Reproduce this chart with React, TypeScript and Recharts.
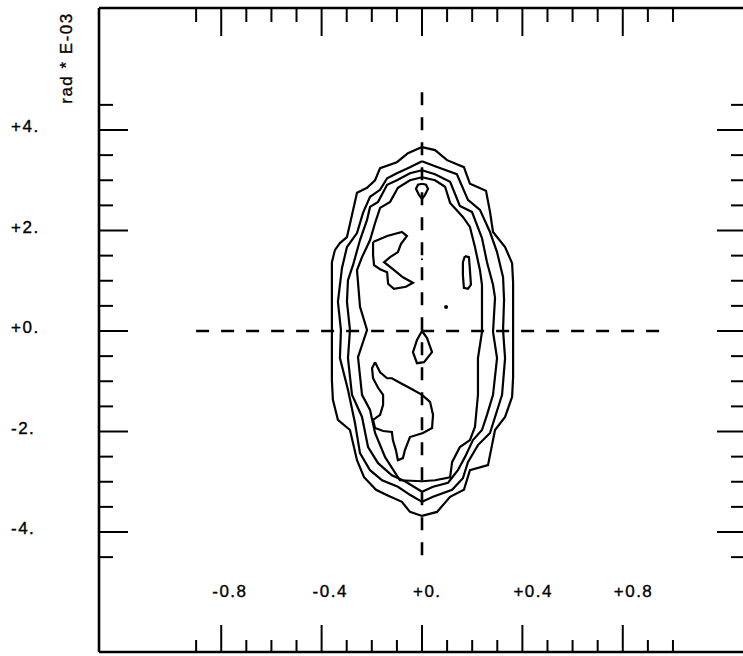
import React from 'react';
import { ScatterChart, Scatter, XAxis, YAxis } from 'recharts';

// tick positions and labels
const X_TICKS = [-0.9, -0.8, -0.7, -0.6, -0.5, -0.4, -0.3, -0.2, -0.1, 0, 0.1, 0.2, 0.3, 0.4, 0.5, 0.6, 0.7, 0.8, 0.9, 1.0];
const X_MAJOR = [-0.8, -0.4, 0, 0.4, 0.8];
const X_LABELS = ['-0.8', '-0.4', '+0.', '+0.4', '+0.8'];
const Y_TICKS = [4.5, 4, 3.5, 3, 2.5, 2, 1.5, 1, 0.5, 0, -0.5, -1, -1.5, -2, -2.5, -3, -3.5, -4, -4.5];
const Y_MAJOR = [4, 2, 0, -2, -4];
const Y_LABELS = ['+4.', '+2.', '+0.', '-2.', '-4.'];

// contour levels, outer to inner
const contour1 = [
  { x: 0, y: 3.66 }, { x: 0.052, y: 3.6 }, { x: 0.1, y: 3.4 }, { x: 0.167, y: 3.26 }, { x: 0.191, y: 2.93 },
  { x: 0.255, y: 2.79 }, { x: 0.271, y: 2.37 }, { x: 0.283, y: 1.97 }, { x: 0.331, y: 1.67 }, { x: 0.359, y: 1.35 },
  { x: 0.363, y: 0.96 }, { x: 0.363, y: 0.02 }, { x: 0.363, y: -0.92 }, { x: 0.359, y: -1.31 }, { x: 0.331, y: -1.71 },
  { x: 0.291, y: -1.97 }, { x: 0.263, y: -2.67 }, { x: 0.191, y: -2.77 }, { x: 0.167, y: -3.16 }, { x: 0.112, y: -3.3 },
  { x: 0.06, y: -3.6 }, { x: 0, y: -3.68 }, { x: -0.048, y: -3.6 }, { x: -0.08, y: -3.4 }, { x: -0.143, y: -3.26 },
  { x: -0.183, y: -3.16 }, { x: -0.231, y: -2.91 }, { x: -0.259, y: -2.57 }, { x: -0.287, y: -1.97 }, { x: -0.335, y: -1.77 },
  { x: -0.355, y: -1.37 }, { x: -0.359, y: -0.98 }, { x: -0.359, y: 0.02 }, { x: -0.359, y: 0.82 }, { x: -0.359, y: 1.37 },
  { x: -0.347, y: 1.61 }, { x: -0.327, y: 1.75 }, { x: -0.299, y: 1.87 }, { x: -0.279, y: 2.31 }, { x: -0.259, y: 2.75 },
  { x: -0.219, y: 2.85 }, { x: -0.187, y: 3.0 }, { x: -0.167, y: 3.24 }, { x: -0.1, y: 3.36 }, { x: -0.056, y: 3.54 },
  { x: 0, y: 3.66 },
];

const contour2 = [
  { x: 0, y: 3.38 }, { x: 0.052, y: 3.28 }, { x: 0.139, y: 3.12 }, { x: 0.183, y: 2.61 }, { x: 0.231, y: 2.41 },
  { x: 0.271, y: 1.97 }, { x: 0.299, y: 1.57 }, { x: 0.323, y: 1.07 }, { x: 0.327, y: 0.62 }, { x: 0.323, y: 0.02 },
  { x: 0.331, y: -0.54 }, { x: 0.319, y: -1.27 }, { x: 0.271, y: -2.03 }, { x: 0.223, y: -2.27 }, { x: 0.183, y: -2.61 },
  { x: 0.163, y: -2.93 }, { x: 0.12, y: -3.16 }, { x: 0.044, y: -3.3 }, { x: 0, y: -3.4 }, { x: -0.048, y: -3.26 },
  { x: -0.096, y: -3.1 }, { x: -0.159, y: -2.97 }, { x: -0.207, y: -2.77 }, { x: -0.247, y: -2.43 }, { x: -0.267, y: -1.83 },
  { x: -0.295, y: -1.17 }, { x: -0.327, y: -0.54 }, { x: -0.323, y: 0.02 }, { x: -0.335, y: 0.58 }, { x: -0.319, y: 1.25 },
  { x: -0.299, y: 1.67 }, { x: -0.259, y: 1.95 }, { x: -0.235, y: 2.35 }, { x: -0.207, y: 2.67 }, { x: -0.167, y: 2.81 },
  { x: -0.139, y: 3.04 }, { x: -0.1, y: 3.14 }, { x: -0.048, y: 3.26 }, { x: 0, y: 3.38 },
];

const contour3 = [
  { x: 0, y: 3.2 }, { x: 0.052, y: 3.12 }, { x: 0.112, y: 2.97 }, { x: 0.151, y: 2.49 }, { x: 0.199, y: 2.37 },
  { x: 0.239, y: 1.85 }, { x: 0.259, y: 1.37 }, { x: 0.283, y: 0.92 }, { x: 0.291, y: 0.66 }, { x: 0.283, y: -0.02 },
  { x: 0.299, y: -0.54 }, { x: 0.283, y: -1.27 }, { x: 0.259, y: -1.67 }, { x: 0.239, y: -1.97 }, { x: 0.203, y: -2.17 },
  { x: 0.171, y: -2.51 }, { x: 0.143, y: -2.77 }, { x: 0.104, y: -3.02 }, { x: 0.044, y: -3.1 }, { x: 0, y: -3.2 },
  { x: -0.068, y: -2.99 }, { x: -0.12, y: -2.87 }, { x: -0.175, y: -2.63 }, { x: -0.215, y: -2.31 }, { x: -0.239, y: -1.71 },
  { x: -0.279, y: -1.27 }, { x: -0.295, y: -0.54 }, { x: -0.287, y: 0.02 }, { x: -0.299, y: 0.58 }, { x: -0.295, y: 1.01 },
  { x: -0.275, y: 1.31 }, { x: -0.247, y: 1.81 }, { x: -0.219, y: 2.21 }, { x: -0.207, y: 2.47 }, { x: -0.175, y: 2.57 },
  { x: -0.139, y: 2.91 }, { x: -0.1, y: 3.0 }, { x: -0.048, y: 3.14 }, { x: 0, y: 3.2 },
];

const contour4 = [
  { x: 0, y: 3.06 }, { x: 0.052, y: 3.0 }, { x: 0.092, y: 2.87 }, { x: 0.112, y: 2.55 }, { x: 0.163, y: 2.27 },
  { x: 0.191, y: 2.07 }, { x: 0.211, y: 1.67 }, { x: 0.231, y: 1.21 }, { x: 0.239, y: 0.92 }, { x: 0.239, y: -0.02 },
  { x: 0.223, y: -0.54 }, { x: 0.223, y: -1.27 }, { x: 0.211, y: -1.91 }, { x: 0.191, y: -2.17 }, { x: 0.151, y: -2.31 },
  { x: 0.12, y: -2.61 }, { x: 0.112, y: -2.91 }, { x: 0.052, y: -2.97 }, { x: 0, y: -2.99 }, { x: -0.088, y: -2.97 },
  { x: -0.147, y: -2.51 }, { x: -0.187, y: -2.03 }, { x: -0.207, y: -1.57 }, { x: -0.239, y: -1.27 }, { x: -0.255, y: -0.52 },
  { x: -0.219, y: 0.02 }, { x: -0.247, y: 0.48 }, { x: -0.259, y: 1.21 }, { x: -0.239, y: 1.47 }, { x: -0.207, y: 1.81 },
  { x: -0.187, y: 2.15 }, { x: -0.167, y: 2.45 }, { x: -0.127, y: 2.57 }, { x: -0.096, y: 2.85 }, { x: -0.048, y: 3.0 },
  { x: 0, y: 3.06 },
];

// small inner islands
const islandTop = [
  { x: 0, y: 2.93 }, { x: 0.016, y: 2.91 }, { x: 0.024, y: 2.83 }, { x: 0.012, y: 2.71 }, { x: 0, y: 2.63 },
  { x: -0.012, y: 2.71 }, { x: -0.024, y: 2.83 }, { x: -0.016, y: 2.91 }, { x: 0, y: 2.93 },
];

const islandUpperLeft = [
  { x: -0.195, y: 1.77 }, { x: -0.139, y: 1.89 }, { x: -0.08, y: 1.97 }, { x: -0.06, y: 1.89 }, { x: -0.084, y: 1.73 },
  { x: -0.096, y: 1.57 }, { x: -0.127, y: 1.47 }, { x: -0.151, y: 1.37 }, { x: -0.116, y: 1.23 }, { x: -0.076, y: 1.07 },
  { x: -0.036, y: 0.96 }, { x: -0.064, y: 0.88 }, { x: -0.112, y: 0.84 }, { x: -0.135, y: 0.94 }, { x: -0.139, y: 1.17 },
  { x: -0.167, y: 1.23 }, { x: -0.191, y: 1.31 }, { x: -0.195, y: 1.51 }, { x: -0.195, y: 1.77 },
];

const islandRight = [
  { x: 0.171, y: 1.49 }, { x: 0.187, y: 1.47 }, { x: 0.191, y: 1.21 }, { x: 0.195, y: 0.92 }, { x: 0.183, y: 0.84 },
  { x: 0.167, y: 0.86 }, { x: 0.163, y: 1.11 }, { x: 0.163, y: 1.37 }, { x: 0.171, y: 1.49 },
];

const islandCenter = [
  { x: 0, y: 0 }, { x: 0.02, y: -0.14 }, { x: 0.04, y: -0.42 }, { x: 0.008, y: -0.62 }, { x: -0.02, y: -0.64 },
  { x: -0.036, y: -0.42 }, { x: -0.02, y: -0.18 }, { x: 0, y: 0 },
];

const islandLower = [
  { x: -0.187, y: -0.62 }, { x: -0.167, y: -0.82 }, { x: -0.139, y: -0.94 }, { x: -0.12, y: -0.94 }, { x: -0.088, y: -1.03 },
  { x: -0.036, y: -1.17 }, { x: 0, y: -1.27 }, { x: 0.032, y: -1.41 }, { x: 0.044, y: -1.67 }, { x: 0.04, y: -1.93 },
  { x: 0.004, y: -2.03 }, { x: -0.048, y: -2.11 }, { x: -0.068, y: -2.37 }, { x: -0.076, y: -2.53 }, { x: -0.096, y: -2.57 },
  { x: -0.104, y: -2.37 }, { x: -0.116, y: -2.17 }, { x: -0.12, y: -2.01 }, { x: -0.155, y: -1.99 }, { x: -0.187, y: -1.93 },
  { x: -0.195, y: -1.77 }, { x: -0.167, y: -1.67 }, { x: -0.155, y: -1.47 }, { x: -0.155, y: -1.27 }, { x: -0.175, y: -1.13 },
  { x: -0.195, y: -0.94 }, { x: -0.199, y: -0.74 }, { x: -0.187, y: -0.62 },
];

const peaksTiny = [{ x: 0, y: 1.43 }];
const peaksSmall = [{ x: 0.096, y: 0.48 }];

// dashed cross
const crossH = [{ x: -0.9, y: 0 }, { x: 0.95, y: 0 }];
const crossV = [{ x: 0, y: 4.75 }, { x: 0, y: -4.5 }];

const WIDTH = 760;
const HEIGHT = 656;
const PLOT_LEFT = 99;
const PLOT_TOP = 8;
const PLOT_RIGHT = 746;
const PLOT_BOTTOM = 652;
const AXIS = 1; // axes need a non-zero size to be drawn
const FONT = "'Liberation Sans', Arial, sans-serif";
const FONT_SIZE = 17;
const SPACING = 1.5;
const textStyle = { fontFamily: FONT, fontSize: FONT_SIZE, letterSpacing: SPACING, fill: '#000', stroke: '#000', strokeWidth: 0.35 };

const majorIndex = (list: number[], v: number) => list.findIndex((m) => Math.abs(m - v) < 1e-6);

const TopTick = (props: any) => {
  const major = majorIndex(X_MAJOR, props.payload.value) >= 0;
  return <line x1={props.x} x2={props.x} y1={PLOT_TOP} y2={PLOT_TOP + (major ? 28 : 14)} stroke="#000" strokeWidth={2} />;
};

const BottomTick = (props: any) => {
  const i = majorIndex(X_MAJOR, props.payload.value);
  return (
    <g>
      <line x1={props.x} x2={props.x} y1={PLOT_BOTTOM} y2={PLOT_BOTTOM - (i >= 0 ? 27 : 12)} stroke="#000" strokeWidth={2} />
      {i >= 0 && (
        <text x={props.x - 9} y={597} style={textStyle}>
          {X_LABELS[i]}
        </text>
      )}
    </g>
  );
};

const LeftTick = (props: any) => {
  const i = majorIndex(Y_MAJOR, props.payload.value);
  return (
    <g>
      <line x1={PLOT_LEFT} x2={PLOT_LEFT + (i >= 0 ? 29 : 14)} y1={props.y} y2={props.y} stroke="#000" strokeWidth={2} />
      {i >= 0 && (
        <text x={11} y={props.y + 2} style={textStyle}>
          {Y_LABELS[i]}
        </text>
      )}
    </g>
  );
};

const RightTick = (props: any) => {
  const major = majorIndex(Y_MAJOR, props.payload.value) >= 0;
  return <line x1={PLOT_RIGHT} x2={PLOT_RIGHT - (major ? 29 : 15)} y1={props.y} y2={props.y} stroke="#000" strokeWidth={2} />;
};

const AxisTitle = () => (
  <text transform="translate(72,58) rotate(-90)" textAnchor="middle" style={textStyle}>
    rad * E-03
  </text>
);

const noShape = () => <g />;
const dotTiny = (p: any) => <circle cx={p.cx} cy={p.cy} r={1} fill="#000" />;
const dotSmall = (p: any) => <circle cx={p.cx} cy={p.cy} r={2} fill="#000" />;

const lineStyle = { stroke: '#000', strokeWidth: 2.2 };
const dashStyle = { stroke: '#000', strokeWidth: 2.6, strokeDasharray: '13 12' };
const frameStyle = { stroke: '#000', strokeWidth: 2.6 };

const App: React.FC = () => {
  const contours = [contour1, contour2, contour3, contour4, islandTop, islandUpperLeft, islandRight, islandCenter, islandLower];
  return (
    <div style={{ position: 'absolute', left: 0, top: 0, width: 743, height: 656, overflow: 'hidden', background: '#fff' }}>
      <ScatterChart
        width={WIDTH}
        height={HEIGHT}
        margin={{
          top: PLOT_TOP - AXIS,
          right: WIDTH - PLOT_RIGHT - AXIS,
          bottom: HEIGHT - PLOT_BOTTOM - AXIS,
          left: PLOT_LEFT - AXIS,
        }}
      >
        <XAxis xAxisId="b" type="number" dataKey="x" orientation="bottom" height={AXIS} domain={[-1.287, 1.291]} allowDataOverflow
          ticks={X_TICKS} interval={0} tickLine={false} axisLine={frameStyle} tick={<BottomTick />} />
        <XAxis xAxisId="t" type="number" dataKey="x" orientation="top" height={AXIS} domain={[-1.287, 1.291]} allowDataOverflow
          ticks={X_TICKS} interval={0} tickLine={false} axisLine={frameStyle} tick={<TopTick />} />
        <YAxis yAxisId="l" type="number" dataKey="y" orientation="left" width={AXIS} domain={[-6.388, 6.428]} allowDataOverflow
          ticks={Y_TICKS} interval={0} tickLine={false} axisLine={frameStyle} tick={<LeftTick />}
          label={{ content: () => <AxisTitle /> }} />
        <YAxis yAxisId="r" type="number" dataKey="y" orientation="right" width={AXIS} domain={[-6.388, 6.428]} allowDataOverflow
          ticks={Y_TICKS} interval={0} tickLine={false} axisLine={frameStyle} tick={<RightTick />} />
        <Scatter xAxisId="b" yAxisId="l" data={crossH} line={dashStyle} lineType="joint" shape={noShape} isAnimationActive={false} />
        <Scatter xAxisId="b" yAxisId="l" data={crossV} line={dashStyle} lineType="joint" shape={noShape} isAnimationActive={false} />
        {contours.map((c, i) => (
          <Scatter key={i} xAxisId="b" yAxisId="l" data={c} line={lineStyle} lineType="joint" shape={noShape} isAnimationActive={false} />
        ))}
        <Scatter xAxisId="b" yAxisId="l" data={peaksTiny} shape={dotTiny} isAnimationActive={false} />
        <Scatter xAxisId="b" yAxisId="l" data={peaksSmall} shape={dotSmall} isAnimationActive={false} />
      </ScatterChart>
    </div>
  );
};

export default App;
